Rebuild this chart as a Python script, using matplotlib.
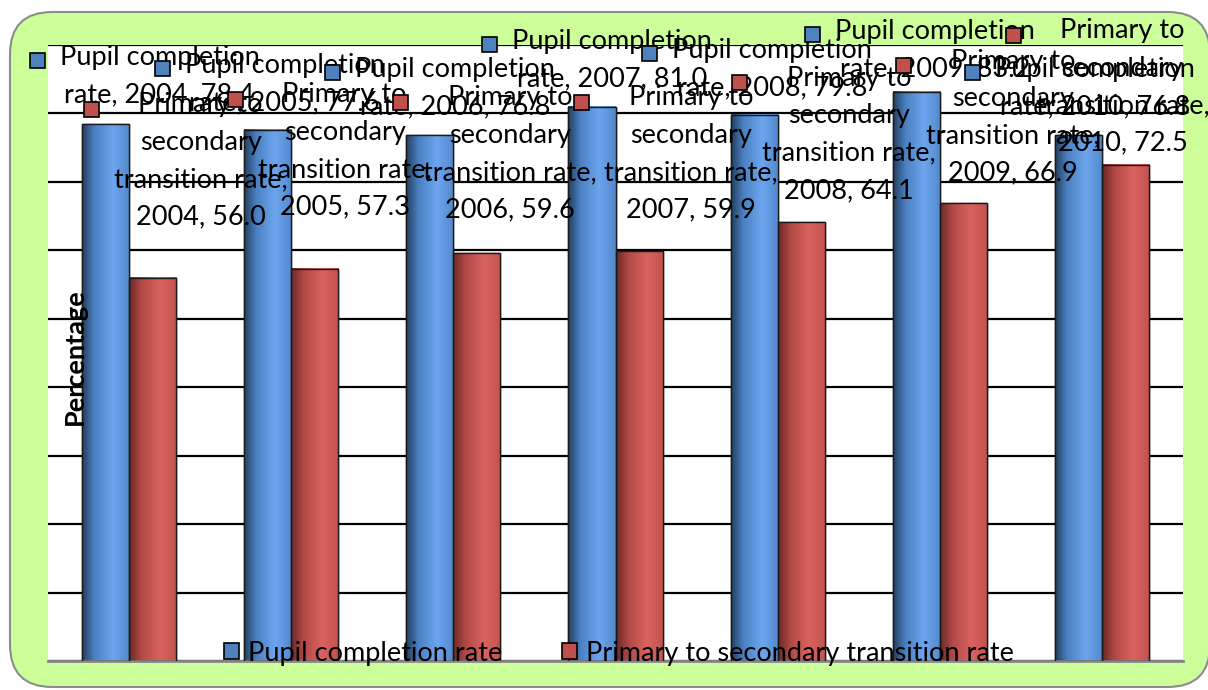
import matplotlib
matplotlib.use("Agg")
import matplotlib.pyplot as plt
import numpy as np
from matplotlib.patches import FancyBboxPatch, Rectangle
from matplotlib.colors import LinearSegmentedColormap

# data
years = ["2004", "2005", "2006", "2007", "2008", "2009", "2010"]
completion = [78.4, 77.6, 76.8, 81.0, 79.8, 83.2, 76.8]
transition = [56.0, 57.3, 59.6, 59.9, 64.1, 66.9, 72.5]
series_names = ["Pupil completion rate", "Primary to secondary transition rate"]

# label offsets (pixels) from the top of each bar, as Excel placed them
blue_dx = [54, 17, 25, 20, 18, 19, 17]
blue_dy = [48, 46, 47, 46, 46, 41, 47]
red_dx = [48, 30, 33, 52, 48, 50, -3]
red_dy = [117, 118, 99, 97, 88, 86, 78]

FONT = "Lato"
FS = 19.5
LS = 1.62
BLUE = "#4F81BD"
RED = "#C0504D"

fig = plt.figure(figsize=(12.08, 6.90), dpi=100)
fig.patch.set_facecolor("white")
W, H = 1208, 690

bg = FancyBboxPatch((10 / W, 3 / H), 1200 / W, 675 / H,
                    boxstyle="round,pad=0,rounding_size=0.035",
                    transform=fig.transFigure, facecolor="#CCFF99",
                    edgecolor="#8C8C8C", linewidth=1.5, mutation_aspect=W / H,
                    zorder=-10)
fig.add_artist(bg)

ax = fig.add_axes([48 / W, 1 - 661 / H, (1183 - 48) / W, (661 - 45) / H])
ax.set_facecolor("white")

x = np.arange(len(years))
bw = 0.29

blue_cmap = LinearSegmentedColormap.from_list(
    "b", [(0, "#22405F"), (0.25, "#4A7FC1"), (0.65, "#6CA6EE"), (1, "#5588CC")])
red_cmap = LinearSegmentedColormap.from_list(
    "r", [(0, "#6B2A28"), (0.25, "#B04845"), (0.65, "#DA6360"), (1, "#C25350")])
grad = np.linspace(0, 1, 64).reshape(1, -1)

b1 = ax.bar(x - bw / 2, completion, bw, color=BLUE, edgecolor="#1A1A1A",
            linewidth=1, zorder=2, label=series_names[0])
b2 = ax.bar(x + bw / 2, transition, bw, color=RED, edgecolor="#1A1A1A",
            linewidth=1, zorder=2, label=series_names[1])

for bars, cmap in [(b1, blue_cmap), (b2, red_cmap)]:
    for r in bars:
        x0, w, h = r.get_x(), r.get_width(), r.get_height()
        ax.imshow(grad, cmap=cmap, extent=(x0, x0 + w, 0, h), aspect="auto", zorder=2.5)
        ax.add_patch(Rectangle((x0, 0), w, h, fill=False, edgecolor="#1A1A1A",
                               linewidth=1, zorder=3))

ax.set_xlim(-0.5, len(years) - 0.5)
ax.set_ylim(0, 90)
ax.set_yticks(np.arange(0, 91, 10))
ax.yaxis.grid(True, color="black", linewidth=1.6, zorder=0)
ax.set_axisbelow(True)
ax.tick_params(left=False, bottom=False, labelleft=False, labelbottom=False)
for s in ["left", "right", "top"]:
    ax.spines[s].set_visible(False)
ax.spines["bottom"].set_color("#888888")
ax.spines["bottom"].set_linewidth(2)

fig.text(75 / W, 1 - 357 / H, "Percentage", rotation=90, ha="center", va="center",
         fontsize=FS, fontweight="bold", family=FONT)

labels = []
for i, yr in enumerate(years):
    t = ax.annotate(f"Pupil completion\nrate, {yr}, {completion[i]:.1f}",
                    (x[i] - bw / 2, completion[i]), xytext=(blue_dx[i], blue_dy[i]),
                    textcoords="offset pixels", ha="center", va="center",
                    multialignment="center", fontsize=FS, family=FONT,
                    linespacing=LS, zorder=5, annotation_clip=False)
    labels.append((t, BLUE))
    t = ax.annotate(f"Primary to\nsecondary\ntransition rate,\n{yr}, {transition[i]:.1f}",
                    (x[i] + bw / 2, transition[i]), xytext=(red_dx[i], red_dy[i]),
                    textcoords="offset pixels", ha="center", va="center",
                    multialignment="center", fontsize=FS, family=FONT,
                    linespacing=LS, zorder=5, annotation_clip=False)
    labels.append((t, RED))

leg = ax.legend(handles=[b1, b2], loc="lower center", bbox_to_anchor=(0.503, -0.025),
                ncol=2, frameon=False, prop={"family": FONT, "size": FS},
                handlelength=0.55, handleheight=0.55, handletextpad=0.35,
                columnspacing=2.2, borderaxespad=0)
for hnd in leg.legend_handles:
    hnd.set_edgecolor("black")
    hnd.set_linewidth(1.2)

# legend key squares to the left of each data label
fig.canvas.draw()
rend = fig.canvas.get_renderer()
sq = 15
for t, col in labels:
    bb = t.get_window_extent(rend)
    line_h = bb.height / (t.get_text().count("\n") + 1)
    cy = bb.y1 - line_h / 2
    fig.add_artist(Rectangle(((bb.x0 - 15 - sq) / W, (cy - sq / 2) / H), sq / W, sq / H,
                             transform=fig.transFigure, facecolor=col,
                             edgecolor="black", linewidth=1.2, zorder=6))

fig.savefig("out.png", dpi=100)
